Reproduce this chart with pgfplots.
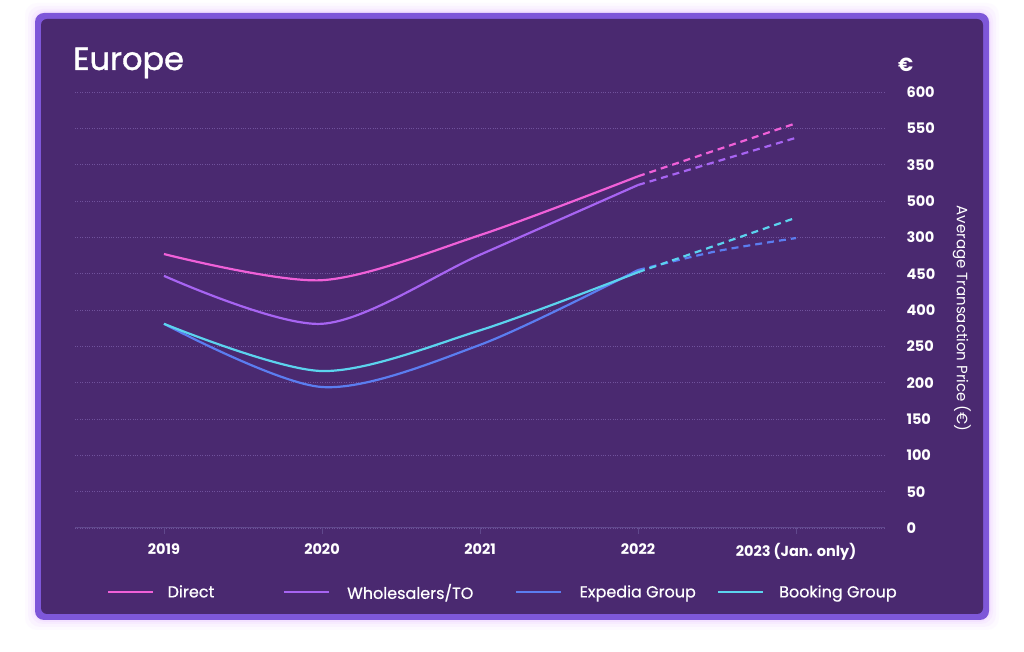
\documentclass[border=0pt]{standalone}
\usepackage{pgfplots}
\pgfplotsset{compat=1.18}
\usepackage{fontspec}
\setmainfont{Poppins}
\newfontfamily\medfont{Poppins}[FakeBold=1.2]
\newfontfamily\semifont{Poppins}[FakeBold=0.6]
\definecolor{panel}{RGB}{74,41,112}
\definecolor{border}{RGB}{126,87,217}
\definecolor{glow}{RGB}{235,200,255}
\definecolor{cDirect}{RGB}{240,96,216}
\definecolor{cWhole}{RGB}{167,100,242}
\definecolor{cExp}{RGB}{91,125,240}
\definecolor{cBook}{RGB}{92,211,238}
\definecolor{gridc}{RGB}{112,82,156}
\definecolor{axc}{RGB}{96,72,140}
\begin{document}
\begin{tikzpicture}[x=1pt,y=1pt]
\useasboundingbox (0,0) rectangle (1024,652);
\fill[white] (0,0) rectangle (1024,652);
% glow
\foreach \d/\o in {10/0.08,7/0.12,4/0.18,2/0.25}{
  \fill[glow,opacity=\o,rounded corners=12pt] (35-\d,32-\d) rectangle (989+\d,639+\d);
}
\fill[border,rounded corners=9pt] (35,32) rectangle (989,639);
\fill[panel,rounded corners=6pt] (41,38) rectangle (983,633);
\node[anchor=base west,text=white,inner sep=0pt,font=\fontsize{32}{36}\selectfont\medfont] at (73,582) {Europe};
\node[anchor=base west,text=white,inner sep=0pt,font=\fontsize{19}{22}\selectfont\bfseries] at (898,580) {€};
\begin{axis}[
  at={(75pt,124pt)}, anchor=south west,
  scale only axis, width=810pt, height=436pt,
  xmin=-0.563, xmax=4.563, ymin=0, ymax=600,
  axis x line*=bottom, axis y line*=right,
  x axis line style={draw=axc, line width=1pt, -},
  y axis line style={draw=none},
  xtick={0,1,2,3,4},
  xticklabels={2019,2020,2021,2022,2023 (Jan. only)},
  ytick={0,50,...,600},
  yticklabels={0,50,100,150,200,250,400,450,300,500,350,550,600},
  ymajorgrids,
  grid style={draw=gridc, dotted, line width=0.8pt},
  xtick style={draw=axc, line width=0.8pt},
  ytick style={draw=none},
  major tick length=6pt, tick align=outside,
  tick label style={text=white, font=\fontsize{14.5}{17}\selectfont\bfseries},
  xticklabel style={yshift=-6pt},
  yticklabel style={anchor=west, xshift=12pt},
  ylabel={Average Transaction Price (€)},
  ylabel style={text=white, font=\fontsize{15}{18}\selectfont, rotate=180, at={(axis description cs:1.095,0.48)}, anchor=center},
  legend columns=4,
  legend style={at={(axis description cs:0.0395,-0.147)}, anchor=west, draw=none, fill=none, text=white, font=\fontsize{16}{19}\selectfont\semifont, inner sep=0pt, nodes={inner sep=0pt}},
  legend cell align=left,
  legend image code/.code={\draw[#1, line width=2.5pt, solid] (0pt,0pt) -- (45pt,0pt);},
]
\addplot[cDirect, line width=2.2pt, smooth] coordinates {(0,377) (1,341) (2,403) (3,484)};
\addlegendentry{\makebox[128pt][l]{\hspace{13pt}Direct}}
\addplot[cWhole, line width=2.2pt, smooth] coordinates {(0,347) (1,281) (2,376) (3,472)};
\addlegendentry{\makebox[185pt][l]{\hspace{17pt}Wholesalers/TO}}
\addplot[cExp, line width=2.2pt, smooth] coordinates {(0,281) (1,194) (2,252) (3,355)};
\addlegendentry{\makebox[154pt][l]{\hspace{17pt}Expedia Group}}
\addplot[cBook, line width=2.2pt, smooth] coordinates {(0,281) (1,216) (2,272) (3,352)};
\addlegendentry{\hspace{15pt}Booking Group}
\addplot[cDirect, line width=2.2pt, dashed, dash pattern=on 7pt off 5pt, forget plot] coordinates {(3,484) (4,557)};
\addplot[cWhole, line width=2.2pt, dash pattern=on 7pt off 5pt, forget plot] coordinates {(3,472) (4,537)};
\addplot[cExp, line width=2.2pt, dash pattern=on 7pt off 5pt, forget plot, smooth] coordinates {(3,355) (3.5,381) (4,399)};
\addplot[cBook, line width=2.2pt, dash pattern=on 7pt off 5pt, forget plot] coordinates {(3,352) (4,427)};
\end{axis}
\end{tikzpicture}
\end{document}
